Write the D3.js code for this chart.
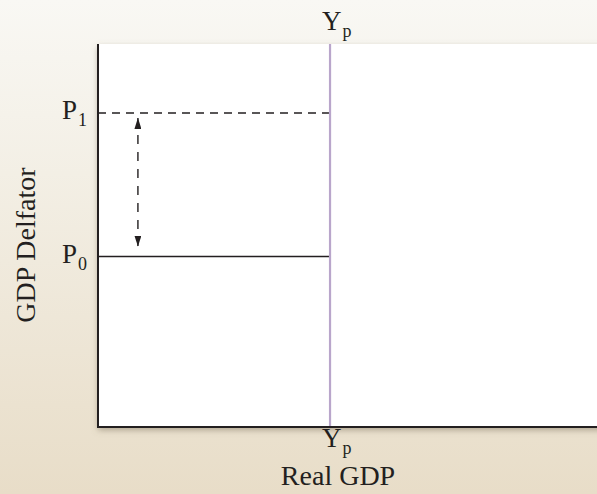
<!DOCTYPE html>
<html>
<head>
<meta charset="utf-8">
<script src="https://cdn.jsdelivr.net/npm/d3@7"></script>
<style>
  html, body { margin: 0; padding: 0; }
  body { width: 597px; height: 494px; overflow: hidden; }
  text { font-family: "Liberation Serif", "DejaVu Serif", serif; fill: #231f20; }
</style>
</head>
<body>
<div id="chart"></div>
<script>
// price levels and potential output (in arbitrary model units)
const priceLevels = [
  { name: "P", sub: "0", value: 44.5, style: "solid" },
  { name: "P", sub: "1", value: 82, style: "dashed" }
];
const potentialOutput = { name: "Y", sub: "p", value: 46.5 };
const axisTitles = { x: "Real GDP", y: "GDP Delfator" };

const W = 597, H = 494;
const margin = { top: 44, right: 0, bottom: 67, left: 98 };
const width = W - margin.left - margin.right,
  height = H - margin.top - margin.bottom;

const svg = d3.select("#chart")
  .append("svg")
  .attr("width", W)
  .attr("height", H);

const defs = svg.append("defs");
const bg = defs.append("linearGradient")
  .attr("id", "bg").attr("x1", 0).attr("y1", 0).attr("x2", 0).attr("y2", 1);
bg.append("stop").attr("offset", "0%").attr("stop-color", "#f9f8f4");
bg.append("stop").attr("offset", "35%").attr("stop-color", "#f3efe5");
bg.append("stop").attr("offset", "100%").attr("stop-color", "#e8ddc8");

const shadow = defs.append("filter").attr("id", "shadow")
  .attr("x", "-5%").attr("y", "-5%").attr("width", "110%").attr("height", "115%");
shadow.append("feDropShadow").attr("dx", 0).attr("dy", 3)
  .attr("stdDeviation", 3).attr("flood-color", "#7a6e58").attr("flood-opacity", 0.55);

defs.append("marker")
  .attr("id", "arrow")
  .attr("viewBox", "0 0 10 10")
  .attr("refX", 10).attr("refY", 5)
  .attr("markerWidth", 11).attr("markerHeight", 7)
  .attr("markerUnits", "userSpaceOnUse")
  .attr("orient", "auto-start-reverse")
  .attr("preserveAspectRatio", "none")
  .append("path")
  .attr("d", "M0,0 L10,5 L0,10 Z")
  .attr("fill", "#231f20");

svg.append("rect")
  .attr("width", W).attr("height", H)
  .attr("fill", "url(#bg)");

const g = svg.append("g")
  .attr("transform", "translate(" + margin.left + "," + margin.top + ")");

const x = d3.scaleLinear().domain([0, 100]).range([0, width]);
const y = d3.scaleLinear().domain([0, 100]).range([height, 0]);

// plot panel
g.append("rect")
  .attr("width", width + 10).attr("height", height)
  .attr("fill", "#fff")
  .attr("filter", "url(#shadow)");

// price level lines
g.selectAll(".price")
  .data(priceLevels)
  .enter()
  .append("line")
  .attr("class", "price")
  .attr("x1", 0)
  .attr("x2", x(potentialOutput.value))
  .attr("y1", d => y(d.value))
  .attr("y2", d => y(d.value))
  .attr("stroke", "#231f20")
  .attr("stroke-width", 1.4)
  .attr("stroke-dasharray", d => d.style == "dashed" ? "8,6" : null);

// double arrow between P0 and P1
const arrowX = x(8);
g.append("line")
  .attr("x1", arrowX).attr("x2", arrowX)
  .attr("y1", y(priceLevels[1].value) + 5)
  .attr("y2", y(priceLevels[0].value) - 10)
  .attr("stroke", "#231f20")
  .attr("stroke-width", 1.4)
  .attr("stroke-dasharray", "9,8")
  .attr("marker-start", "url(#arrow)")
  .attr("marker-end", "url(#arrow)");

// potential output
g.append("line")
  .attr("x1", x(potentialOutput.value)).attr("x2", x(potentialOutput.value))
  .attr("y1", 0).attr("y2", height)
  .attr("stroke", "#b9a6cb")
  .attr("stroke-width", 2.2);

// axes
g.append("line")
  .attr("x1", 0).attr("x2", 0).attr("y1", 0).attr("y2", height)
  .attr("stroke", "#231f20").attr("stroke-width", 2);
g.append("line")
  .attr("x1", -1).attr("x2", width + 10).attr("y1", height).attr("y2", height)
  .attr("stroke", "#231f20").attr("stroke-width", 2);

// tick labels
function subLabel(sel, d) {
  sel.append("tspan").text(d.name);
  sel.append("tspan").attr("font-size", "18px").attr("dy", 7).attr("dx", 1).text(d.sub);
}

g.selectAll(".plabel")
  .data(priceLevels)
  .enter()
  .append("text")
  .attr("class", "plabel")
  .attr("x", -36)
  .attr("y", d => y(d.value) + 6)
  .attr("font-size", "27px")
  .each(function (d) { subLabel(d3.select(this), d); });

[-14, height + 20].forEach(yy => {
  g.append("text")
    .attr("x", x(potentialOutput.value) - 8)
    .attr("y", yy)
    .attr("font-size", "27px")
    .call(s => subLabel(s, potentialOutput));
});

// axis titles
svg.append("text")
  .attr("text-anchor", "middle")
  .attr("x", margin.left + x(potentialOutput.value) + 8)
  .attr("y", 485)
  .attr("font-size", "28px")
  .text(axisTitles.x);

svg.append("text")
  .attr("text-anchor", "middle")
  .attr("transform", "translate(35,245) rotate(-90)")
  .attr("font-size", "28px")
  .text(axisTitles.y);
</script>
</body>
</html>
